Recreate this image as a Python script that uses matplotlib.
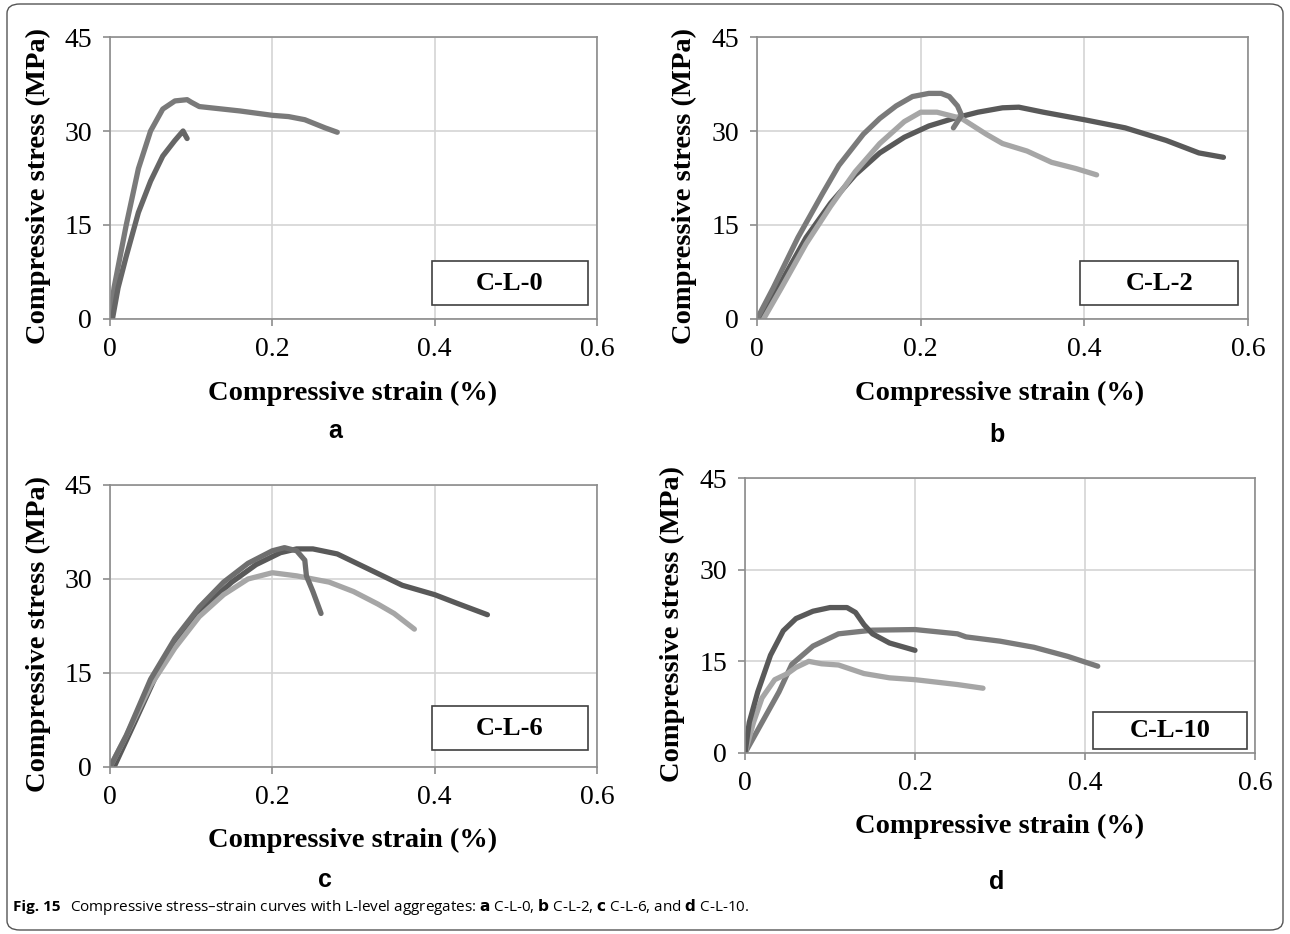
import matplotlib.pyplot as plt
from matplotlib.patches import FancyBboxPatch

# panel a: C-L-0
a1_x = [0, 0.005, 0.02, 0.035, 0.05, 0.065, 0.08, 0.095, 0.1, 0.11, 0.16, 0.2, 0.22, 0.24, 0.265, 0.28]
a1_y = [0, 5, 15, 24, 30, 33.5, 34.8, 35, 34.6, 33.9, 33.2, 32.5, 32.3, 31.8, 30.5, 29.8]
a2_x = [0.003, 0.01, 0.02, 0.035, 0.05, 0.065, 0.08, 0.09, 0.092, 0.095]
a2_y = [0, 5, 10, 17, 22, 26, 28.5, 30, 29.5, 28.8]

# panel b: C-L-2
b1_x = [0, 0.02, 0.05, 0.08, 0.1, 0.13, 0.15, 0.17, 0.19, 0.21, 0.225, 0.235, 0.245, 0.25, 0.245, 0.24]
b1_y = [0, 5, 13, 20, 24.5, 29.5, 32, 34, 35.5, 36, 36, 35.5, 34, 32.5, 31.5, 30.5]
b2_x = [0.008, 0.03, 0.06, 0.09, 0.12, 0.15, 0.18, 0.2, 0.22, 0.25, 0.28, 0.3, 0.33, 0.36, 0.39, 0.415]
b2_y = [0, 5, 12, 18, 23.5, 28, 31.5, 33, 33, 32, 29.5, 28, 26.8, 25, 24, 23]
b3_x = [0.005, 0.03, 0.06, 0.09, 0.12, 0.15, 0.18, 0.21, 0.24, 0.27, 0.3, 0.32, 0.35, 0.4, 0.45, 0.5, 0.54, 0.57]
b3_y = [0, 6, 13, 18.5, 23, 26.5, 29, 30.8, 32, 33, 33.7, 33.8, 33, 31.8, 30.5, 28.5, 26.5, 25.8]

# panel c: C-L-6
c1_x = [0, 0.02, 0.05, 0.08, 0.11, 0.14, 0.17, 0.2, 0.215, 0.23, 0.24, 0.242, 0.25, 0.26]
c1_y = [0, 5, 14, 20.5, 25.5, 29.5, 32.5, 34.5, 35, 34.5, 33, 30.5, 28, 24.5]
c2_x = [0.005, 0.03, 0.06, 0.09, 0.12, 0.15, 0.18, 0.21, 0.23, 0.25, 0.28, 0.32, 0.36, 0.4, 0.43, 0.465]
c2_y = [0, 7, 15.5, 21.5, 26, 29.5, 32.3, 34.2, 34.8, 34.8, 34, 31.5, 29, 27.5, 26, 24.3]
c3_x = [0, 0.02, 0.05, 0.08, 0.11, 0.14, 0.17, 0.2, 0.23, 0.27, 0.3, 0.33, 0.35, 0.375]
c3_y = [0, 5, 13, 19, 24, 27.5, 30, 31, 30.5, 29.5, 28, 26, 24.5, 22]

# panel d: C-L-10
d1_x = [0, 0.005, 0.015, 0.03, 0.045, 0.06, 0.08, 0.1, 0.12, 0.13, 0.14, 0.15, 0.17, 0.2]
d1_y = [0, 5, 10, 16, 20, 22, 23.2, 23.8, 23.8, 23, 21, 19.5, 18, 16.8]
d2_x = [0, 0.02, 0.04, 0.055, 0.08, 0.11, 0.15, 0.2, 0.25, 0.26, 0.3, 0.34, 0.38, 0.415]
d2_y = [0, 5, 10, 14.5, 17.5, 19.5, 20.1, 20.2, 19.5, 19, 18.3, 17.3, 15.8, 14.2]
d3_x = [0, 0.01, 0.02, 0.035, 0.05, 0.06, 0.075, 0.09, 0.11, 0.14, 0.17, 0.2, 0.25, 0.28]
d3_y = [0, 5, 9, 12, 13, 14, 15, 14.6, 14.4, 13, 12.3, 12, 11.2, 10.6]

x_ticks = [0, 0.2, 0.4, 0.6]
x_ticklabels = ['0', '0.2', '0.4', '0.6']
y_ticks = [0, 15, 30, 45]

W, H = 1290, 934
fig = plt.figure(figsize=(12.9, 9.34), dpi=100)

DARK = '#595959'
MED = '#7a7a7a'
LIGHT = '#a6a6a6'

serif = ['Liberation Serif', 'DejaVu Serif']
sans = ['Liberation Sans', 'DejaVu Sans']

def make_ax(l, r, t, b):
    return fig.add_axes([l / W, 1 - b / H, (r - l) / W, (b - t) / H])

panels = [
    # axes px box, curves, box label, box fraction, xlabel pos, letter pos, ylabel x
    ((110, 597, 37, 319), [(a1_x, a1_y, MED), (a2_x, a2_y, '#666666')], 'C-L-0',
     (0.661, 0.05, 0.32, 0.155), (353, 393), ('a', 335, 431), 38),
    ((757, 1248, 37, 319), [(b3_x, b3_y, DARK), (b2_x, b2_y, LIGHT), (b1_x, b1_y, MED)], 'C-L-2',
     (0.658, 0.05, 0.322, 0.155), (1000, 393), ('b', 997, 435), 684),
    ((110, 597, 485, 767), [(c2_x, c2_y, DARK), (c3_x, c3_y, LIGHT), (c1_x, c1_y, '#6e6e6e')], 'C-L-6',
     (0.661, 0.06, 0.32, 0.155), (353, 840), ('c', 325, 880), 38),
    ((745, 1255, 478, 753), [(d2_x, d2_y, MED), (d3_x, d3_y, LIGHT), (d1_x, d1_y, DARK)], 'C-L-10',
     (0.682, 0.015, 0.302, 0.135), (1000, 826), ('d', 997, 882), 672),
]

for (l, r, t, b), curves, lab, bx, xl, letter, ylx in panels:
    ax = make_ax(l, r, t, b)
    for xs, ys, col in curves:
        ax.plot(xs, ys, color=col, lw=3.8, solid_capstyle='round', solid_joinstyle='round')
    ax.set_xlim(0, 0.6)
    ax.set_ylim(0, 45)
    ax.set_xticks(x_ticks)
    ax.set_xticklabels(x_ticklabels)
    ax.set_yticks(y_ticks)
    ax.grid(True, color='#d4d4d4', lw=1.2)
    ax.set_axisbelow(True)
    for s in ax.spines.values():
        s.set_color('#8c8c8c')
        s.set_linewidth(1.2)
    ax.tick_params(length=5, width=1.2, color='#8c8c8c', labelsize=20, pad=8)
    for tl in ax.get_xticklabels() + ax.get_yticklabels():
        tl.set_family(serif)
    # label box
    ax.add_patch(plt.Rectangle((bx[0], bx[1]), bx[2], bx[3], transform=ax.transAxes,
                               facecolor='white', edgecolor='#404040', lw=1.2, zorder=5))
    ax.text(bx[0] + bx[2] / 2, bx[1] + bx[3] / 2, lab, transform=ax.transAxes, ha='center', va='center',
            fontsize=19, fontweight='bold', family=serif, zorder=6)
    fig.text(xl[0] / W, 1 - xl[1] / H, 'Compressive strain (%)', ha='center', va='center',
             fontsize=20.5, fontweight='bold', family=serif)
    fig.text(ylx / W, 1 - ((t + b) / 2 + 8) / H, 'Compressive stress (MPa)', ha='center', va='center',
             rotation=90, fontsize=20.5, fontweight='bold', family=serif)
    fig.text(letter[1] / W, 1 - letter[2] / H, letter[0], ha='center', va='center',
             fontsize=18, fontweight='bold', family=sans)

# outer frame
fig.patches.append(FancyBboxPatch((7 / W, 4 / H), 1276 / W, 926 / H, boxstyle='round,pad=0,rounding_size=0.01',
                                  transform=fig.transFigure, facecolor='none', edgecolor='#555555', lw=1.0))

fig.text(13 / W, 1 - 907 / H, 'Fig. 15', ha='left', va='center', fontsize=11, fontweight='bold', family=['Open Sans'])
fig.text(70 / W, 1 - 907 / H,
         'Compressive stress\u2013strain curves with L-level aggregates: $\\mathbf{a}$ C-L-0, $\\mathbf{b}$ C-L-2, '
         '$\\mathbf{c}$ C-L-6, and $\\mathbf{d}$ C-L-10.',
         ha='left', va='center', fontsize=11, family=['Open Sans'])

fig.savefig('out.png', dpi=100)
